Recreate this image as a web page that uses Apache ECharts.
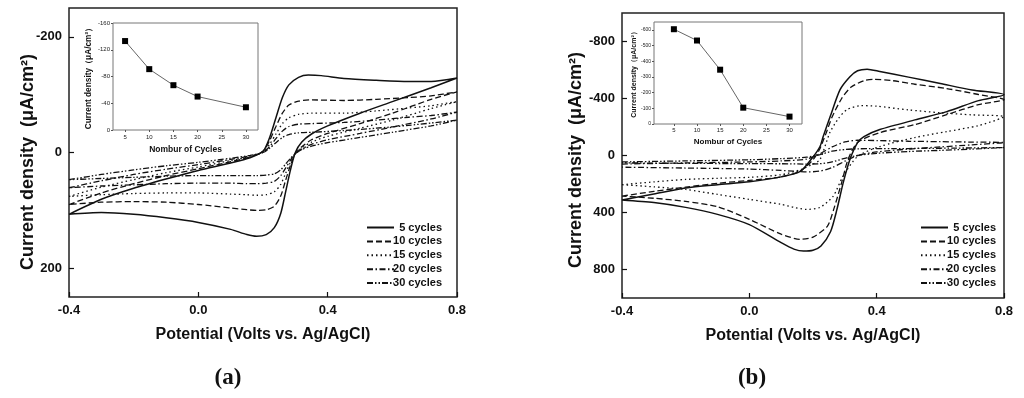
<!DOCTYPE html>
<html>
<head>
<meta charset="utf-8">
<script src="https://cdn.jsdelivr.net/npm/echarts@6/dist/echarts.min.js"></script>
<style>html,body{margin:0;padding:0;background:#fff}#c{width:1024px;height:398px}</style>
</head>
<body>
<div id="c"></div>
<script>
// ---------- DATA ----------
const seriesNames = ['5 cycles', '10 cycles', '15 cycles', '20 cycles', '30 cycles'];
const potentialTicks = [-0.4, 0.0, 0.4, 0.8];
const aCurrentTicks = [-200, 0, 200];
const bCurrentTicks = [-800, -400, 0, 400, 800];
const insetCycleTicks = [5, 10, 15, 20, 25, 30];
const insetATicks = [-160, -120, -80, -40, 0];
const insetBTicks = [-600, -500, -400, -300, -200, -100, 0];
const insetCycles = [5, 10, 15, 20, 30];
const insetAPeak = [-133, -91, -67, -50, -34];
const insetBPeak = [-604, -532, -346, -104, -47];

// Panel (a): [potential V, current density uA/cm2]
const a5 = [[-0.4,107],[-0.3,81],[-0.2,62],[-0.1,46],[0.0,31],[0.1,18],[0.16,9],[0.2,-2],[0.22,-25],[0.24,-60],[0.26,-95],[0.28,-117],[0.31,-130],[0.34,-134],[0.38,-133],[0.45,-128],[0.55,-125],[0.65,-123],[0.72,-123],[0.8,-129],
  [0.72,-112],[0.6,-88],[0.5,-68],[0.4,-46],[0.35,-32],[0.32,-18],[0.3,0],[0.285,30],[0.27,68],[0.255,105],[0.235,130],[0.21,142],[0.18,145],[0.15,142],[0.1,133],[0.0,121],[-0.1,113],[-0.2,107],[-0.3,104],[-0.4,107]];
const a10 = [[-0.4,90],[-0.3,70],[-0.2,54],[-0.1,40],[0.0,28],[0.1,16],[0.16,8],[0.2,-2],[0.22,-20],[0.24,-45],[0.26,-68],[0.28,-82],[0.31,-89],[0.35,-91],[0.45,-90],[0.55,-92],[0.65,-95],[0.72,-98],[0.8,-105],
  [0.72,-92],[0.6,-68],[0.5,-50],[0.4,-33],[0.35,-22],[0.32,-10],[0.3,2],[0.285,22],[0.27,48],[0.255,75],[0.235,93],[0.21,99],[0.18,100],[0.15,99],[0.1,96],[0.0,90],[-0.1,86],[-0.2,85],[-0.3,86],[-0.4,90]];
const a15 = [[-0.4,76],[-0.3,60],[-0.2,47],[-0.1,35],[0.0,25],[0.1,14],[0.16,7],[0.2,-1],[0.22,-14],[0.24,-32],[0.26,-50],[0.28,-60],[0.31,-66],[0.35,-68],[0.45,-68],[0.55,-72],[0.65,-77],[0.72,-81],[0.8,-88],
  [0.72,-76],[0.6,-56],[0.5,-42],[0.4,-28],[0.35,-18],[0.32,-8],[0.3,2],[0.285,17],[0.27,36],[0.255,55],[0.235,68],[0.21,73],[0.18,74],[0.15,73],[0.1,72],[0.0,70],[-0.1,70],[-0.2,71],[-0.3,73],[-0.4,76]];
const a20 = [[-0.4,61],[-0.3,49],[-0.2,38],[-0.1,29],[0.0,21],[0.1,12],[0.16,6],[0.2,0],[0.22,-10],[0.24,-24],[0.26,-37],[0.28,-45],[0.31,-49],[0.35,-50],[0.45,-52],[0.55,-56],[0.65,-61],[0.72,-64],[0.8,-70],
  [0.72,-58],[0.6,-44],[0.5,-33],[0.4,-22],[0.35,-14],[0.32,-6],[0.3,2],[0.285,13],[0.27,27],[0.255,40],[0.235,50],[0.21,53],[0.18,54],[0.15,54],[0.1,53],[0.0,53],[-0.1,54],[-0.2,56],[-0.3,58],[-0.4,61]];
const a30 = [[-0.4,47],[-0.3,38],[-0.2,30],[-0.1,23],[0.0,17],[0.1,10],[0.16,5],[0.2,0],[0.22,-7],[0.24,-17],[0.26,-26],[0.28,-31],[0.31,-34],[0.35,-35],[0.45,-38],[0.55,-42],[0.65,-47],[0.72,-51],[0.8,-56],
  [0.72,-46],[0.6,-35],[0.5,-26],[0.4,-17],[0.35,-11],[0.32,-5],[0.3,2],[0.285,10],[0.27,20],[0.255,30],[0.235,37],[0.21,39],[0.18,40],[0.15,40],[0.1,40],[0.0,40],[-0.1,41],[-0.2,43],[-0.3,45],[-0.4,47]];

// Panel (b)
const b5 = [[-0.4,312],[-0.3,270],[-0.2,228],[-0.1,205],[0.0,185],[0.1,150],[0.16,112],[0.2,10],[0.222,-63],[0.232,-133],[0.254,-273],[0.285,-462],[0.316,-553],[0.34,-595],[0.37,-606],[0.41,-590],[0.5,-550],[0.6,-505],[0.7,-460],[0.8,-427],
  [0.72,-385],[0.62,-308],[0.52,-250],[0.41,-182],[0.36,-133],[0.34,-90],[0.316,28],[0.295,190],[0.275,380],[0.255,535],[0.225,635],[0.2,665],[0.17,671],[0.14,657],[0.1,612],[0.0,485],[-0.1,413],[-0.2,364],[-0.3,330],[-0.4,312]];
const b10 = [[-0.4,285],[-0.3,252],[-0.2,222],[-0.1,195],[0.0,175],[0.1,150],[0.16,110],[0.2,30],[0.22,-40],[0.24,-150],[0.26,-270],[0.29,-400],[0.32,-480],[0.36,-525],[0.39,-535],[0.45,-525],[0.52,-500],[0.62,-470],[0.72,-428],[0.8,-392],
  [0.72,-357],[0.62,-287],[0.52,-217],[0.41,-161],[0.34,-91],[0.31,28],[0.29,190],[0.265,378],[0.245,497],[0.2,573],[0.16,588],[0.1,552],[0.0,448],[-0.1,360],[-0.2,322],[-0.3,300],[-0.4,285]];
const b15 = [[-0.4,205],[-0.3,185],[-0.2,168],[-0.1,160],[0.0,153],[0.1,135],[0.16,100],[0.2,60],[0.222,28],[0.253,-161],[0.28,-260],[0.307,-322],[0.35,-350],[0.4,-346],[0.5,-320],[0.6,-300],[0.7,-285],[0.8,-273],
  [0.72,-210],[0.62,-168],[0.52,-126],[0.41,-63],[0.34,7],[0.294,147],[0.263,287],[0.222,364],[0.18,378],[0.14,364],[0.1,343],[0.0,308],[-0.1,273],[-0.2,238],[-0.3,220],[-0.4,205]];
const b20 = [[-0.4,60],[-0.2,52],[0.0,45],[0.1,38],[0.18,25],[0.22,-10],[0.26,-60],[0.3,-95],[0.34,-107],[0.4,-105],[0.5,-100],[0.6,-97],[0.7,-94],[0.8,-91],
  [0.7,-75],[0.6,-60],[0.5,-45],[0.4,-25],[0.34,0],[0.3,40],[0.26,85],[0.22,110],[0.18,115],[0.14,110],[0.1,105],[0.0,95],[-0.2,88],[-0.4,82]];
const b30 = [[-0.4,45],[-0.2,38],[0.0,30],[0.1,22],[0.18,12],[0.22,-5],[0.26,-30],[0.3,-42],[0.34,-47],[0.45,-48],[0.55,-50],[0.65,-52],[0.8,-56],
  [0.7,-45],[0.6,-36],[0.5,-28],[0.4,-15],[0.34,0],[0.3,20],[0.26,45],[0.22,58],[0.18,60],[0.1,58],[0.0,57],[-0.2,55],[-0.4,52]];

// ---------- STYLE ----------
const ink = '#111';
const font = 'Liberation Sans, Arial, sans-serif';
const dashes = ['solid', [6, 3], [1.5, 3], [6, 2.5, 1.5, 2.5], [6, 2, 1.5, 2, 1.5, 2]];
const widths = [1.5, 1.3, 1.3, 1.3, 1.3];

function mainX(gi) {
  return {
    type: 'value', gridIndex: gi, min: -0.4, max: 0.8,
    axisLine: { show: false, onZero: false },
    axisTick: { inside: true, length: 5, lineStyle: { color: ink, width: 1.2 }, customValues: potentialTicks },
    axisLabel: { customValues: potentialTicks, formatter: v => v.toFixed(1), color: ink, fontFamily: font, fontWeight: 'bold', fontSize: 13, margin: 7 },
    splitLine: { show: false },
    name: 'Potential (Volts vs. Ag/AgCl)', nameLocation: 'middle', nameGap: 30,
    nameTextStyle: { color: ink, fontFamily: font, fontWeight: 'bold', fontSize: 16 }
  };
}
function mainY(gi, min, max, ticks) {
  return {
    type: 'value', gridIndex: gi, min: min, max: max, inverse: true,
    axisLine: { show: false, onZero: false },
    axisTick: { inside: true, length: 5, lineStyle: { color: ink, width: 1.2 }, customValues: ticks },
    axisLabel: { customValues: ticks, color: ink, fontFamily: font, fontWeight: 'bold', fontSize: 13, margin: 7 },
    splitLine: { show: false }
  };
}
function insetX(gi, min, max, nameGap, labelMargin, nameSize) {
  return {
    type: 'value', gridIndex: gi, min: min, max: max,
    axisLine: { show: false, onZero: false },
    axisTick: { inside: false, length: 2, lineStyle: { color: '#555' }, customValues: insetCycleTicks },
    axisLabel: { customValues: insetCycleTicks, color: '#222', fontFamily: font, fontSize: 6, margin: labelMargin },
    splitLine: { show: false },
    name: 'Nombur of Cycles', nameLocation: 'middle', nameGap: nameGap,
    nameTextStyle: { color: ink, fontFamily: font, fontWeight: 'bold', fontSize: nameSize }
  };
}
function insetY(gi, min, max, ticks, nameGap, fs, nameSize) {
  return {
    type: 'value', gridIndex: gi, min: min, max: max, inverse: true,
    axisLine: { show: false, onZero: false },
    axisTick: { inside: false, length: 2, lineStyle: { color: '#555' }, customValues: ticks },
    axisLabel: { customValues: ticks, color: '#222', fontFamily: font, fontSize: fs, margin: 3 },
    splitLine: { show: false },
    name: 'Current density（μA/cm²）', nameLocation: 'middle', nameGap: nameGap,
    nameTextStyle: { color: ink, fontFamily: font, fontWeight: 'bold', fontSize: nameSize }
  };
}
function cvSeries(data, i, gi) {
  return {
    type: 'line', name: seriesNames[i], data: data, xAxisIndex: gi, yAxisIndex: gi,
    showSymbol: false, symbol: 'none', smooth: 0.25, silent: true, clip: true,
    lineStyle: { color: ink, width: widths[i], type: dashes[i] },
    itemStyle: { color: ink }
  };
}
function insetSeries(values, gi) {
  return {
    type: 'line', data: insetCycles.map((c, k) => [c, values[k]]), xAxisIndex: gi, yAxisIndex: gi,
    symbol: 'rect', symbolSize: 6, silent: true, z: 10,
    lineStyle: { color: '#666', width: 1 }, itemStyle: { color: '#000' }
  };
}
function legend(left) {
  return {
    left: left, top: 222, orient: 'vertical', padding: 0, itemWidth: 27, itemHeight: 12, itemGap: 2.9,
    data: seriesNames, selectedMode: false,
    itemStyle: { opacity: 0 },
    formatter: n => '{t|' + n + '}',
    textStyle: { rich: { t: { width: 43, align: 'right', fontFamily: font, fontWeight: 'bold', fontSize: 11, color: ink, lineHeight: 12 } } }
  };
}
const yName = 'Current density  (μA/cm²)';
const yNameFont = 'bold 18px "Liberation Sans", Arial, sans-serif';

const chart = echarts.init(document.getElementById('c'), null, { renderer: 'canvas' });
chart.setOption({
  animation: false,
  backgroundColor: '#fff',
  grid: [
    { left: 69, top: 8, width: 388, height: 289, show: true, borderColor: '#222', borderWidth: 1.5 },
    { left: 113, top: 23, width: 145, height: 107, show: true, borderColor: '#777', borderWidth: 1 },
    { left: 622, top: 13, width: 382, height: 285, show: true, borderColor: '#222', borderWidth: 1.5 },
    { left: 654, top: 22, width: 148, height: 102, show: true, borderColor: '#777', borderWidth: 1 }
  ],
  xAxis: [mainX(0), insetX(1, 2.5, 32.5, 15, 4, 8.5), mainX(2), insetX(3, 0.7, 32.7, 14, 3, 8)],
  yAxis: [mainY(0, -250, 250, aCurrentTicks), insetY(1, -160, 0, insetATicks, 20, 6, 8.3), mainY(2, -1000, 1000, bCurrentTicks), insetY(3, -650, 0, insetBTicks, 14, 5, 7)],
  legend: [legend(366), legend(920)],
  series: [
    cvSeries(a5, 0, 0), cvSeries(a10, 1, 0), cvSeries(a15, 2, 0), cvSeries(a20, 3, 0), cvSeries(a30, 4, 0),
    insetSeries(insetAPeak, 1),
    cvSeries(b5, 0, 2), cvSeries(b10, 1, 2), cvSeries(b15, 2, 2), cvSeries(b20, 3, 2), cvSeries(b30, 4, 2),
    insetSeries(insetBPeak, 3)
  ],
  graphic: [
    { type: 'text', x: 28, y: 162, rotation: Math.PI / 2, style: { text: yName, font: yNameFont, fill: ink, align: 'center', verticalAlign: 'middle' } },
    { type: 'text', x: 576, y: 160, rotation: Math.PI / 2, style: { text: yName, font: yNameFont, fill: ink, align: 'center', verticalAlign: 'middle' } },
    { type: 'text', x: 228, y: 378, style: { text: '(a)', font: 'bold 23px "Liberation Serif", "Times New Roman", serif', fill: ink, align: 'center', verticalAlign: 'middle' } },
    { type: 'text', x: 752, y: 378, style: { text: '(b)', font: 'bold 23px "Liberation Serif", "Times New Roman", serif', fill: ink, align: 'center', verticalAlign: 'middle' } }
  ]
});
</script>
</body>
</html>
